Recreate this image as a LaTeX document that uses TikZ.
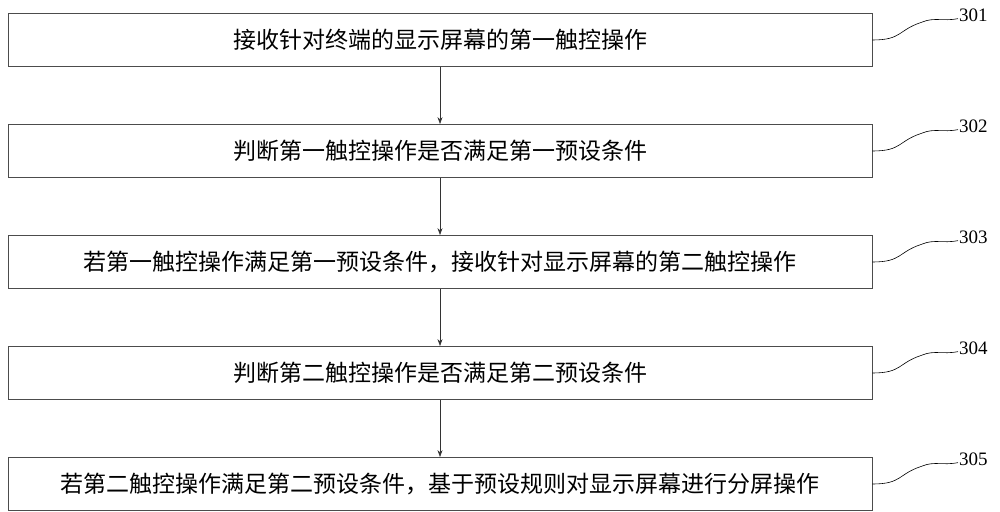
\documentclass[tikz,border=0pt]{standalone}
\usepackage{fontspec}
\setmainfont{Liberation Serif}
\newfontfamily\cjk{Noto Sans CJK SC}
\usetikzlibrary{arrows.meta}
\begin{document}
\begin{tikzpicture}[x=1pt,y=-1pt,
  box/.style={draw=black!70,line width=0.8pt,minimum width=864pt,minimum height=53pt,inner sep=0pt,font=\cjk\fontsize{23}{23}\selectfont},
  lab/.style={font=\fontsize{19}{19}\selectfont},
  arr/.style={-{Stealth[length=7pt,width=5pt]},line width=0.6pt,black!80}]
\useasboundingbox (0,0) rectangle (1000,511);
\node[box] (b1) at (440,40) {接收针对终端的显示屏幕的第一触控操作};
\node[box] (b2) at (440,151) {判断第一触控操作是否满足第一预设条件};
\node[box] (b3) at (440,262) {若第一触控操作满足第一预设条件，接收针对显示屏幕的第二触控操作};
\node[box] (b4) at (440,373) {判断第二触控操作是否满足第二预设条件};
\node[box] (b5) at (440,484) {若第二触控操作满足第二预设条件，基于预设规则对显示屏幕进行分屏操作};
\foreach \i/\n in {1/301,2/302,3/303,4/304,5/305}{
  \node[lab,anchor=west,inner sep=1pt] (l\i) at (958,{15+111*(\i-1)}) {\n};
  \draw[line width=0.6pt] (b\i.east) .. controls ++(30,0) and ++(-25,8) .. ++(50,-18) .. controls ++(12,-5) and ++(-15,3) .. ([yshift=4pt]l\i.south west);
}
\foreach \a/\b in {b1/b2,b2/b3,b3/b4,b4/b5} \draw[arr] (\a) -- (\b);
\end{tikzpicture}
\end{document}
